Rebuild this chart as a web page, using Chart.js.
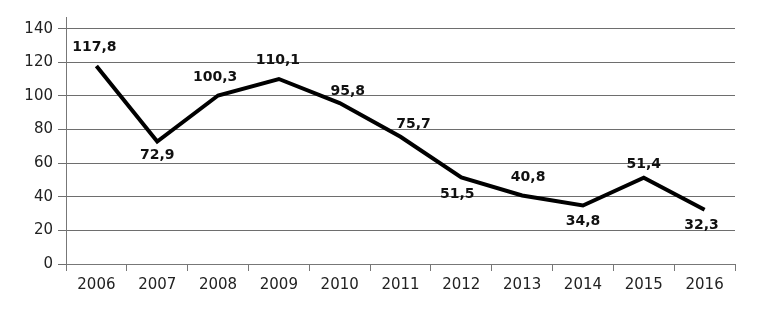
<!DOCTYPE html>
<html>
<head>
<meta charset="utf-8">
<script src="https://cdn.jsdelivr.net/npm/chart.js@4/dist/chart.umd.min.js"></script>
<style>
  html, body { margin: 0; padding: 0; background: #fff; }
  #c { display: block; }
</style>
</head>
<body>
<canvas id="c" width="758" height="322"></canvas>
<script>
const years = ['2006','2007','2008','2009','2010','2011','2012','2013','2014','2015','2016'];
const values = [117.8, 72.9, 100.3, 110.1, 95.8, 75.7, 51.5, 40.8, 34.8, 51.4, 32.3];
const yTicks = [0, 20, 40, 60, 80, 100, 120, 140];
// label placement relative to each point (dx, dy in px)
const labelOffsets = [[-2,-19],[0,14],[-3,-18],[-1,-19],[8,-12],[13,-12],[-4,17],[6,-18],[0,16],[0,-13],[-3,16]];

const fmt = v => v.toFixed(1).replace('.', ',');

const labelPlugin = {
  id: 'valueLabels',
  afterDatasetsDraw(chart) {
    const ctx = chart.ctx;
    const meta = chart.getDatasetMeta(0);
    ctx.save();
    ctx.font = 'bold 14px "DejaVu Sans"';
    ctx.fillStyle = '#111';
    ctx.textAlign = 'center';
    ctx.textBaseline = 'middle';
    meta.data.forEach((pt, i) => {
      const o = labelOffsets[i] || [0, -16];
      ctx.fillText(fmt(values[i]), pt.x + o[0], pt.y + o[1]);
    });
    ctx.restore();
  }
};

new Chart(document.getElementById('c'), {
  type: 'line',
  data: {
    labels: years,
    datasets: [{
      data: values,
      borderColor: '#000',
      borderWidth: 4,
      pointRadius: 0,
      tension: 0,
      fill: false
    }]
  },
  options: {
    responsive: false,
    animation: false,
    layout: { padding: { top: 17, right: 23, left: 0, bottom: 0 } },
    plugins: { legend: { display: false }, tooltip: { enabled: false } },
    scales: {
      x: {
        offset: true,
        grid: { offset: true, drawOnChartArea: false, drawTicks: true, tickLength: 7, color: '#777' },
        border: { color: '#777', width: 1 },
        ticks: { font: { family: 'DejaVu Sans', size: 15 }, color: '#222', padding: 5, maxRotation: 0 },
        afterFit(s) { s.height = 58; }
      },
      y: {
        min: 0,
        max: 147,
        afterBuildTicks(s) { s.ticks = yTicks.map(v => ({ value: v })); },
        grid: { color: '#6e6e6e', tickLength: 8, drawTicks: true },
        border: { color: '#777', width: 1 },
        ticks: { font: { family: 'DejaVu Sans', size: 15 }, color: '#222', padding: 5 },
        afterFit(s) { s.width = 66; }
      }
    }
  },
  plugins: [labelPlugin]
});
</script>
</body>
</html>
